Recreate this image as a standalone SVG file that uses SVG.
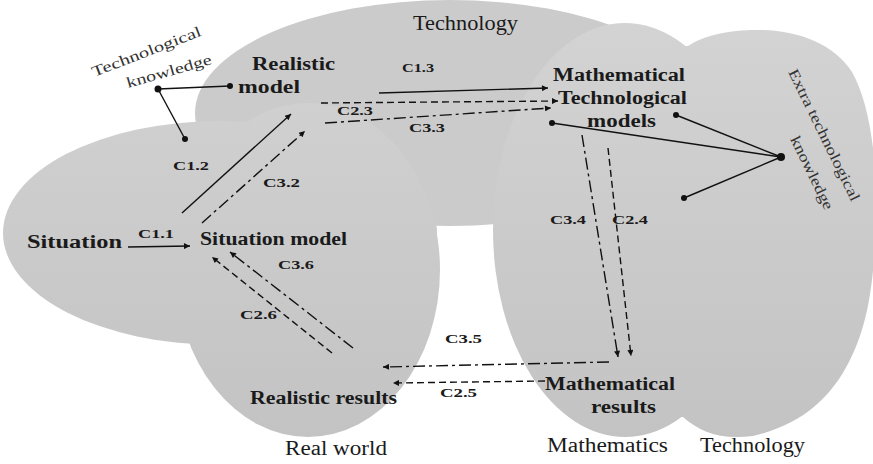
<svg xmlns="http://www.w3.org/2000/svg" width="873" height="464" viewBox="0 0 873 464" font-family="'Liberation Serif', serif">
<defs>
<linearGradient id="gf" gradientUnits="userSpaceOnUse" x1="0" y1="0" x2="0" y2="440">
<stop offset="0" stop-color="#d4d4d4"/><stop offset="1" stop-color="#c3c3c3"/>
</linearGradient>
<marker id="ah" viewBox="0 0 10 10" refX="10" refY="5" markerWidth="8" markerHeight="6" markerUnits="userSpaceOnUse" orient="auto"><path d="M0,0 L10,5 L0,10 z" fill="#111"/></marker>
</defs>
<style>
.reg{fill:url(#gf);stroke:none}
text{font-family:'Liberation Serif',serif}
.b{font-weight:700;font-size:18px;fill:#1a1a1a}
.c{font-weight:700;font-size:13px;fill:#1a1a1a}
.r{font-weight:400;font-size:20px;fill:#1a1a1a}
.k{font-weight:400;font-size:15px;fill:#333}
.ln{fill:none;stroke:#111;stroke-width:1.4}
.da{stroke-dasharray:7 4}
.dd{stroke-dasharray:12 4 3 4}
.dot{fill:#111}
</style>
<rect width="873" height="464" fill="#fff"/>
<g id="regions">
<ellipse id="region-technology-top" cx="450" cy="113" rx="255" ry="113" fill="#cbcbcb"/>
<ellipse id="region-situation" class="reg" cx="220" cy="233" rx="217" ry="112"/>
<ellipse id="region-real-world" class="reg" cx="308" cy="270" rx="132" ry="167"/>
<path id="region-technology-right" class="reg" d="M688,46 C705,34 735,29 763,30 C800,31 835,45 852,72 C868,100 876,150 876,200 C876,290 865,330 850,360 C830,400 800,425 753,436 C720,440 700,432 683,417 L640,417 L640,46 Z"/>
<ellipse id="region-mathematics" class="reg" cx="625" cy="230" rx="132" ry="207"/>
<text class="r" x="413" y="30" textLength="105" lengthAdjust="spacingAndGlyphs">Technology</text>
<text class="r" x="285" y="455" textLength="102" lengthAdjust="spacingAndGlyphs">Real world</text>
<text class="r" x="547" y="452" textLength="121" lengthAdjust="spacingAndGlyphs">Mathematics</text>
<text class="r" x="700" y="452" textLength="105" lengthAdjust="spacingAndGlyphs">Technology</text>
</g>
<g id="connectors">
<line class="ln" x1="128" y1="247" x2="190" y2="246" marker-end="url(#ah)"/>
<line class="ln" x1="182" y1="213" x2="291" y2="114" marker-end="url(#ah)"/>
<line class="ln dd" x1="202" y1="223" x2="305" y2="131" marker-end="url(#ah)"/>
<line class="ln" x1="379" y1="93" x2="548" y2="88" marker-end="url(#ah)"/>
<line class="ln da" x1="321" y1="103" x2="558" y2="101" marker-end="url(#ah)"/>
<line class="ln dd" x1="325" y1="123" x2="551" y2="108" marker-end="url(#ah)"/>
<line class="ln dd" x1="582" y1="135" x2="618" y2="357" marker-end="url(#ah)"/>
<line class="ln da" x1="608" y1="148" x2="631" y2="356" marker-end="url(#ah)"/>
<line class="ln dd" x1="609" y1="362" x2="383" y2="367" marker-end="url(#ah)"/>
<line class="ln da" x1="545" y1="381" x2="393" y2="383" marker-end="url(#ah)"/>
<line class="ln dd" x1="353" y1="348" x2="230" y2="252" marker-end="url(#ah)"/>
<line class="ln da" x1="332" y1="353" x2="212" y2="257" marker-end="url(#ah)"/>
<text class="c" x="138" y="238" textLength="36" lengthAdjust="spacingAndGlyphs">C1.1</text>
<text class="c" x="173" y="170" textLength="36" lengthAdjust="spacingAndGlyphs">C1.2</text>
<text class="c" x="263" y="187" textLength="37" lengthAdjust="spacingAndGlyphs">C3.2</text>
<text class="c" x="402" y="72" textLength="32" lengthAdjust="spacingAndGlyphs">C1.3</text>
<text class="c" x="337" y="115" textLength="36" lengthAdjust="spacingAndGlyphs">C2.3</text>
<text class="c" x="409" y="132" textLength="36" lengthAdjust="spacingAndGlyphs">C3.3</text>
<text class="c" x="550" y="224" textLength="36" lengthAdjust="spacingAndGlyphs">C3.4</text>
<text class="c" x="612" y="224" textLength="36" lengthAdjust="spacingAndGlyphs">C2.4</text>
<text class="c" x="445" y="343" textLength="37" lengthAdjust="spacingAndGlyphs">C3.5</text>
<text class="c" x="440" y="397" textLength="37" lengthAdjust="spacingAndGlyphs">C2.5</text>
<text class="c" x="278" y="269" textLength="36" lengthAdjust="spacingAndGlyphs">C3.6</text>
<text class="c" x="240" y="319" textLength="37" lengthAdjust="spacingAndGlyphs">C2.6</text>
</g>
<g id="node-technological-knowledge">
<line class="ln" x1="158" y1="89" x2="230" y2="86"/>
<line class="ln" x1="158" y1="89" x2="185" y2="139"/>
<circle class="dot" cx="158" cy="89" r="3.5"/>
<circle class="dot" cx="230" cy="86" r="3"/>
<circle class="dot" cx="185" cy="139" r="3"/>
<text class="k" transform="translate(94,77) rotate(-21)" textLength="116" lengthAdjust="spacingAndGlyphs">Technological</text>
<text class="k" transform="translate(128,88) rotate(-16)" textLength="88" lengthAdjust="spacingAndGlyphs">knowledge</text>
</g>
<g id="node-extra-technological-knowledge">
<line class="ln" x1="781" y1="157" x2="676" y2="115"/>
<line class="ln" x1="781" y1="157" x2="552" y2="123"/>
<line class="ln" x1="781" y1="157" x2="684" y2="198"/>
<circle class="dot" cx="781" cy="157" r="4"/>
<circle class="dot" cx="676" cy="115" r="3"/>
<circle class="dot" cx="552" cy="123" r="3"/>
<circle class="dot" cx="684" cy="198" r="3"/>
<text class="k" transform="translate(788,72) rotate(64)" textLength="145" lengthAdjust="spacingAndGlyphs">Extra technological</text>
<text class="k" transform="translate(790,139) rotate(64)" textLength="80" lengthAdjust="spacingAndGlyphs">knowledge</text>
</g>
<g id="node-situation">
<text class="b" x="27" y="248" textLength="95" lengthAdjust="spacingAndGlyphs">Situation</text>
</g>
<g id="node-situation-model">
<text class="b" x="200" y="245" textLength="147" lengthAdjust="spacingAndGlyphs">Situation model</text>
</g>
<g id="node-realistic-model">
<text class="b" x="252" y="70" textLength="83" lengthAdjust="spacingAndGlyphs">Realistic</text>
<text class="b" x="238" y="93" textLength="62" lengthAdjust="spacingAndGlyphs">model</text>
</g>
<g id="node-mathematical-technological-models">
<text class="b" x="553" y="81" textLength="132" lengthAdjust="spacingAndGlyphs">Mathematical</text>
<text class="b" x="558" y="104" textLength="129" lengthAdjust="spacingAndGlyphs">Technological</text>
<text class="b" x="587" y="127" textLength="69" lengthAdjust="spacingAndGlyphs">models</text>
</g>
<g id="node-mathematical-results">
<text class="b" x="545" y="390" textLength="130" lengthAdjust="spacingAndGlyphs">Mathematical</text>
<text class="b" x="591" y="413" textLength="65" lengthAdjust="spacingAndGlyphs">results</text>
</g>
<g id="node-realistic-results">
<text class="b" x="250" y="404" textLength="147" lengthAdjust="spacingAndGlyphs">Realistic results</text>
</g>
</svg>
